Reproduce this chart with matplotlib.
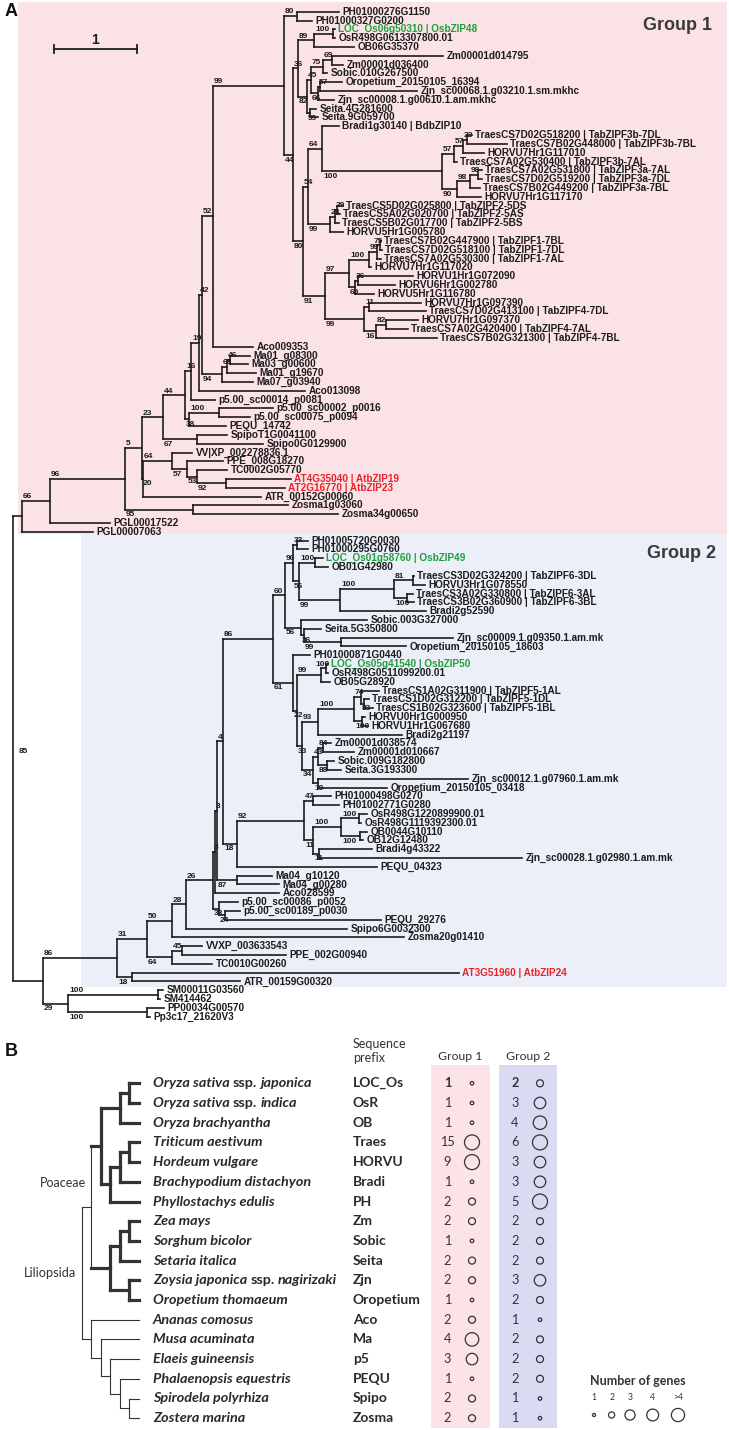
import matplotlib
matplotlib.use("Agg")
import matplotlib.pyplot as plt
from matplotlib.collections import LineCollection
from matplotlib.patches import Rectangle, Circle

# ---------------- panel A: bZIP tree ----------------
# Newick pieces; branch lengths in 1/83 of the scale-bar unit, support values as node names
G1_PH = "(PH01000276G1150:42,PH01000327G0200:15)80:13"
G1_ORYZA = "((LOC_Os06g50310 | OsbZIP48:2,OsR498G0613307800.01:2)100:19,OB06G35370:40)89:16"
G1_PANICOID = ("((((Zm00001d014795:111,Zm00001d036400:11)69:9,Sobic.010G267500:4)75:12,"
               "((Oropetium_20150105_16394:22,Zjn_sc00068.1.g03210.1.sm.mkhc:97)57:2,"
               "Zjn_sc00008.1.g00610.1.am.mkhc:16)66:7)45:4,"
               "(Seita.4G281600:6,Seita.9G059700:8)59:3)82:9")
G1_F3 = ("((((TraesCS7D02G518200 | TabZIPF3b-7DL:5,TraesCS7B02G448000 | TabZIPF3b-7BL:40)23:4,"
         "HORVU7Hr1G117010:21)57:9,TraesCS7A02G530400 | TabZIPF3b-7AL:3)57:12,"
         "(((TraesCS7A02G531800 | TabZIPF3a-7AL:4,TraesCS7D02G519200 | TabZIPF3a-7DL:4)98:8,"
         "TraesCS7B02G449200 | TabZIPF3a-7BL:10)98:13,HORVU7Hr1G117170:24)90:15)100:120")
G1_F2 = ("(((TraesCS5D02G025800 | TabZIPF2-5DS:6,TraesCS5A02G020700 | TabZIPF2-5AS:3)29:2,"
         "TraesCS5B02G017700 | TabZIPF2-5BS:4)23:5,HORVU5Hr1G005780:13)99:22")
G1_F1F4 = ("(((((TraesCS7B02G447900 | TabZIPF1-7BL:1,TraesCS7D02G518100 | TabZIPF1-7DL:2)75:3,"
           "TraesCS7A02G530300 | TabZIPF1-7AL:4)99:8,HORVU7Hr1G117020:2)100:20,"
           "((HORVU1Hr1G072090:55,HORVU6Hr1G002780:37)36:3,HORVU5Hr1G116780:19)69:6)97:24,"
           "((HORVU7Hr1G097390:52,TraesCS7D02G413100 | TabZIPF4-7DL:57)11:5,"
           "((HORVU7Hr1G097370:32,TraesCS7A02G420400 | TabZIPF4-7AL:22)82:10,"
           "TraesCS7B02G321300 | TabZIPF4-7BL:61)16:12)99:39)91:22")
G1_BACKBONE = [  # (sister clade, support of the joined node, stem length)
    ("Aco009353:40", "52", 11),
    ("(((Ma01_g08300:20,Ma03_g00600:18)46:3,Ma01_g19670:29)68:5,Ma07_g03940:31)94:20", "42", 3),
    ("Aco013098:106", "19", 8),
    ("p5.00_sc00014_p0081:24", "16", 6),
    ("((p5.00_sc00002_p0016:54,p5.00_sc00075_p0094:31)100:30,PEQU_14742:37)38:4", "44", 22),
    ("(SpipoT1G0041100:30,Spipo0G0129900:66)67:34", "23", 21),
    ("((VV|XP_002278836.1:20,(PPE_008G18270:36,(TC0002G05770:30,"
     "(AT4G35040 | AtbZIP19:65,AT2G16770 | AtbZIP23:59)92:29)53:10)57:15)64:29,"
     "ATR_00152G00060:118)20:1", "5", 17),
    ("(Zosma1g03060:95,Zosma34g00650:145)95:68", "96", 75),
    ("PGL00017522:60", "66", 28),
    ("PGL00007063:71", "", 9),
]

G2_PH = "(PH01005720G0030:11,PH01000295G0760:11)33:4"
G2_F6 = ("((LOC_Os01g58760 | OsbZIP49:8,OB01G42980:13)100:16,"
         "(((TraesCS3D02G324200 | TabZIPF6-3DL:1,HORVU3Hr1G078550:12)81:19,"
         "(TraesCS3A02G330800 | TabZIPF6-3AL:6,TraesCS3B02G360900 | TabZIPF6-3BL:7)100:13)100:54,"
         "Bradi2g52590:86)99:41)56:6")
G2_PAN_A = ("(Sobic.003G327000:66,(Seita.5G350800:17,(Zjn_sc00009.1.g09350.1.am.mk:112,"
            "Oropetium_20150105_18603:65)99:37)36:3)56:16")
G2_ORYZA = "((LOC_Os05g41540 | OsbZIP50:2,OsR498G0511099200.01:2)100:5,OB05G28920:9)99:24"
G2_F5 = ("(((TraesCS1A02G311900 | TabZIPF5-1AL:18,(TraesCS1D02G312200 | TabZIPF5-1DL:5,"
         "TraesCS1B02G323600 | TabZIPF5-1BL:9)83:3)74:7,(HORVU0Hr1G000950:3,HORVU1Hr1G067680:6)100:8)100:36,"
         "Bradi2g21197:84)93:16")
G2_PAN_B = ("(((Zm00001d038574:8,Zm00001d010667:31)84:5,(Sobic.009G182800:7,Seita.3G193300:14)88:9)43:5,"
            "(Zjn_sc00012.1.g07960.1.am.mk:150,Oropetium_20150105_03418:69)19:5)34:11")
G2_GRASS_C = ("((PH01000498G0270:18,PH01002771G0280:26)47:9,"
              "(((OsR498G1220899900.01:8,OsR498G1119392300.01:2)100:18,(OB0044G10110:7,OB12G12480:3)100:19)100:28,"
              "(Bradi4g43322:53,Zjn_sc00028.1.g02980.1.am.mk:203)11:6)11:9)92:67")
G2_BACKBONE = [
    ("(Ma04_g10120:35,Ma04_g00280:42)87:20", "3", 2),
    ("Aco028599:64", "3", 2),
    ("(p5.00_sc00086_p0052:19,(p5.00_sc00189_p0030:15,PEQU_29276:156)24:6)38:6", "26", 27),
    ("Spipo6G0032300:161", "28", 14),
    ("Zosma20g01410:232", "50", 25),
    ("((VVXP_003633543:20,PPE_002G00940:104)45:10,TC0010G00260:40)64:25", "31", 30),
    ("(AT3G51960 | AtbZIP24:327,ATR_00159G00320:108)18:15", "86", 74),
    ("((SM00011G03560:5,SM414462:2)100:90,(PP00034G00570:17,Pp3c17_21620V3:3)100:79)29:25", "", 30),
]
ROOT_SUPPORT = "85"
GREEN_LEAVES = ["LOC_Os06g50310 | OsbZIP48", "LOC_Os01g58760 | OsbZIP49", "LOC_Os05g41540 | OsbZIP50"]
RED_LEAVES = ["AT4G35040 | AtbZIP19", "AT2G16770 | AtbZIP23", "AT3G51960 | AtbZIP24"]

# ---------------- panel B: species table ----------------
SPECIES = ["Oryza sativa ssp. japonica", "Oryza sativa ssp. indica", "Oryza brachyantha",
           "Triticum aestivum", "Hordeum vulgare", "Brachypodium distachyon", "Phyllostachys edulis",
           "Zea mays", "Sorghum bicolor", "Setaria italica", "Zoysia japonica ssp. nagirizaki",
           "Oropetium thomaeum", "Ananas comosus", "Musa acuminata", "Elaeis guineensis",
           "Phalaenopsis equestris", "Spirodela polyrhiza", "Zostera marina"]
PREFIXES = ["LOC_Os", "OsR", "OB", "Traes", "HORVU", "Bradi", "PH", "Zm", "Sobic", "Seita", "Zjn",
            "Oropetium", "Aco", "Ma", "p5", "PEQU", "Spipo", "Zosma"]
GROUP1_N = [1, 1, 1, 15, 9, 1, 2, 2, 1, 2, 2, 1, 2, 4, 3, 1, 2, 2]
GROUP2_N = [2, 3, 4, 6, 3, 3, 5, 2, 2, 2, 3, 2, 1, 2, 2, 2, 1, 1]
POACEAE = "((((LOC_Os,OsR),OB),(((Traes,HORVU),Bradi),PH)),(((Zm,Sobic),Seita),(Zjn,Oropetium)))Poaceae"
SPECIES_TREE = f"({POACEAE},(Aco,(Ma,(p5,(PEQU,(Spipo,Zosma))))))Liliopsida"
LEGEND_CLASSES = ["1", "2", "3", "4", ">4"]


def parse(s):
    pos = 0

    def node():
        nonlocal pos
        kids = []
        if s[pos] == "(":
            pos += 1
            kids.append(node())
            while s[pos] == ",":
                pos += 1
                kids.append(node())
            pos += 1
        start = pos
        while pos < len(s) and s[pos] not in ":,()":
            pos += 1
        name = s[start:pos].strip()
        length = 0.0
        if pos < len(s) and s[pos] == ":":
            pos += 1
            start = pos
            while pos < len(s) and s[pos] not in ",()":
                pos += 1
            length = float(s[start:pos])
        return {"name": name, "len": length, "kids": kids}

    return node()


def build(core, backbone):
    clade = core
    for sister, sup, ln in backbone:
        clade = f"({clade},{sister}){sup}:{ln}"
    return clade


n298 = f"({G1_ORYZA},{G1_PANICOID})36:5"
n308 = f"((Bradi1g30140 | BdbZIP10:17,{G1_F3})64:14,{G1_F2})54:5"
n303 = f"({n308},{G1_F1F4})80:10"
core1 = f"({G1_PH},({n298},{n303})44:9)99:71"
group1 = build(core1, G1_BACKBONE)

n285 = f"(({G2_PH},{G2_F6})90:8,{G2_PAN_A})60:12"
n292 = f"(PH01000871G0440:17,({G2_ORYZA},({G2_F5},{G2_PAN_B})33:5)22:4)61:20"
core2 = f"(({n285},{n292})86:50,({G2_GRASS_C},PEQU_04323:140)18:14)4:6"
group2 = build(core2, G2_BACKBONE)
TREE = f"({group1},{group2}){ROOT_SUPPORT}"

# ---------------- figure ----------------
W, H = 729, 1430
fig = plt.figure(figsize=(W / 100, H / 100), dpi=100)
ax = fig.add_axes([0, 0, 1, 1])
ax.set_xlim(0, W)
ax.set_ylim(H, 0)
ax.axis("off")
R = fig.canvas.get_renderer()

LINE = "#1c1c1c"
TFONT = "Liberation Sans"
BFONT = ["Liberation Sans Narrow", "Lato"]
ROOT_X, LEAF_Y0, LEAF_DY = 13, 11.7, 8.816
BAR_PX, LEN_PER_UNIT = 83, 83


def width(s, **kw):
    t = ax.text(0, 0, s, **kw)
    w = t.get_window_extent(renderer=R).width
    t.remove()
    return w


ax.add_patch(Rectangle((18, 2), 709, 532, color="#fbe2e6", lw=0, zorder=0))
ax.add_patch(Rectangle((81, 534), 646, 453, color="#eceef8", lw=0, zorder=0))

root = parse(TREE)
leaves = []


def place(n, x0):
    n["x"] = x0 + n["len"] / LEN_PER_UNIT * BAR_PX
    if n["kids"]:
        for k in n["kids"]:
            place(k, n["x"])
        n["y"] = (n["kids"][0]["y"] + n["kids"][-1]["y"]) / 2
    else:
        n["y"] = LEAF_Y0 + len(leaves) * LEAF_DY
        leaves.append(n)


place(root, ROOT_X)
leaf_starts = [(lf["x"] + 3.5, lf["y"]) for lf in leaves]
segs = []
sup_kw = dict(fontsize=6.0, fontweight="bold", family=TFONT, color=LINE)


def support_label(x0, yc, above, text):
    w = width(text, **sup_kw)
    for lx, ly in leaf_starts:
        if abs(ly - yc) < 6 and x0 - 2 < lx < x0 + w + 1:
            x0 = min(x0, lx - w - 1.5)
    if above:
        ax.text(x0, yc + 4.2, text, ha="left", va="bottom", **sup_kw)
    else:
        ax.text(x0, yc - 4.4, text, ha="left", va="top", **sup_kw)


def walk(n):
    if not n["kids"]:
        return
    segs.append([(n["x"], n["kids"][0]["y"]), (n["x"], n["kids"][-1]["y"])])
    for i, k in enumerate(n["kids"]):
        segs.append([(n["x"], k["y"]), (k["x"], k["y"])])
        if k["kids"] and k["name"]:
            if i == 0:
                support_label(n["x"] + 1, k["y"] - 5.0, True, k["name"])
            else:
                support_label(n["x"] + 1, k["y"] + 6.0, False, k["name"])
        walk(k)


walk(root)
ax.add_collection(LineCollection(segs, colors=LINE, linewidths=1.2, capstyle="projecting"))
ax.text(root["x"] + 6, root["y"] + 3, root["name"], ha="left", va="center", **sup_kw)

for lf in leaves:
    col = LINE
    if lf["name"] in GREEN_LEAVES:
        col = "#1f9e3d"
    elif lf["name"] in RED_LEAVES:
        col = "#ea2228"
    ax.text(lf["x"] + 3.5, lf["y"], lf["name"], ha="left", va="center", fontsize=7.2,
            fontweight="bold", family=TFONT, color=col)

# scale bar and titles
ax.plot([54, 54 + BAR_PX], [49, 49], color=LINE, lw=1.3)
for xb in (54, 54 + BAR_PX):
    ax.plot([xb, xb], [45, 53], color=LINE, lw=1.3)
ax.text(54 + BAR_PX / 2, 40, "1", ha="center", va="center", fontsize=10, fontweight="bold", family=TFONT, color=LINE)
ax.text(5, 12, "A", ha="left", va="center", fontsize=13, fontweight="bold", family=TFONT, color="#111")
ax.text(712, 25, "Group 1", ha="right", va="center", fontsize=13, fontweight="bold", family=TFONT, color="#3a3a3a")
ax.text(716, 553, "Group 2", ha="right", va="center", fontsize=13, fontweight="bold", family=TFONT, color="#3a3a3a")

# ---------------- panel B ----------------
ax.text(5, 1052, "B", ha="left", va="center", fontsize=13, fontweight="bold", family=TFONT, color="#111")
ROW_Y0, ROW_DY = 1083.3, 19.7
SP_TIP_X, SP_STEP = 139, 9.5
X_NAME, X_PREFIX = 153, 353
X_N1, X_C1, X_N2, X_C2 = 447.5, 472, 515, 540
CIRCLE_D = {1: 3.5, 2: 7, 3: 11.5, 4: 13.5, 5: 15}
TXT = "#2a2a2a"

ax.add_patch(Rectangle((431, 1065), 59.5, 363, color="#fce3e6", lw=0, zorder=0))
ax.add_patch(Rectangle((499, 1065), 58, 363, color="#d9dbf2", lw=0, zorder=0))
ax.text(X_PREFIX, 1051, "Sequence\nprefix", ha="left", va="center", fontsize=9, family=BFONT,
        color="#333", linespacing=1.1)
ax.text(460.5, 1056, "Group 1", ha="center", va="center", fontsize=8.8, family=BFONT, color="#333")
ax.text(528, 1056, "Group 2", ha="center", va="center", fontsize=8.8, family=BFONT, color="#333")

sp_root = parse(SPECIES_TREE)
rows = []


def place_sp(n):
    if n["kids"]:
        for k in n["kids"]:
            place_sp(k)
        n["h"] = 1 + max(k["h"] for k in n["kids"])
        n["y"] = (n["kids"][0]["y"] + n["kids"][-1]["y"]) / 2
    else:
        n["h"] = 0
        n["y"] = ROW_Y0 + len(rows) * ROW_DY
        rows.append(n["name"])
    n["x"] = SP_TIP_X - n["h"] * SP_STEP


place_sp(sp_root)
THICK, THIN = 2.3, 0.8


def draw_sp(n, thick):
    if not n["kids"]:
        return
    inner = thick or n["name"] == "Poaceae"
    ax.plot([n["x"], n["x"]], [n["kids"][0]["y"], n["kids"][-1]["y"]], color="#333",
            lw=THICK if thick else THIN, solid_capstyle="projecting")
    for k in n["kids"]:
        ax.plot([n["x"], k["x"]], [k["y"], k["y"]], color="#333", lw=THICK if inner else THIN,
                solid_capstyle="projecting")
        draw_sp(k, inner)
    if n["name"] == "Poaceae":
        ax.text(n["x"] - 5, n["y"] - 1.2 * ROW_DY, n["name"], ha="right", va="center", fontsize=9,
                family=BFONT, color="#333")
    elif n["name"] == "Liliopsida":
        ax.text(n["x"] - 6, n["y"], n["name"], ha="right", va="center", fontsize=9.2,
                family=BFONT, color="#333")


draw_sp(sp_root, False)

sp_kw = dict(fontsize=10.4, fontweight="bold", family=BFONT, color=TXT, va="center", ha="left")
pre_kw = dict(sp_kw, fontsize=10)
space = width("a a", style="italic", **sp_kw) - width("aa", style="italic", **sp_kw)


def draw_species(x, y, name):
    parts = name.split(" ssp. ")
    if len(parts) == 1:
        ax.text(x, y, name, style="italic", **sp_kw)
        return
    t = ax.text(x, y, parts[0], style="italic", **sp_kw)
    x += t.get_window_extent(renderer=R).width + space
    t = ax.text(x, y, "ssp.", style="normal", **sp_kw)
    x += t.get_window_extent(renderer=R).width + space
    ax.text(x, y, parts[1], style="italic", **sp_kw)


def circle(x, y, n, scale=1.0):
    d = CIRCLE_D[min(n, 5)] * scale
    ax.add_patch(Circle((x, y), d / 2, fill=False, ec="#333", lw=0.9))


for i, (sp, pre, n1, n2) in enumerate(zip(SPECIES, PREFIXES, GROUP1_N, GROUP2_N)):
    y = ROW_Y0 + i * ROW_DY
    draw_species(X_NAME, y, sp)
    ax.text(X_PREFIX, y, pre, **pre_kw)
    wt = "bold" if i == 0 else "normal"
    ax.text(X_N1, y, str(n1), ha="center", va="center", fontsize=9.2, fontweight=wt, family=BFONT, color="#333")
    ax.text(X_N2, y, str(n2), ha="center", va="center", fontsize=9.2, fontweight=wt, family=BFONT, color="#333")
    circle(X_C1, y, n1)
    circle(X_C2, y, n2)

# legend
ax.text(638, 1381, "Number of genes", ha="center", va="center", fontsize=9, fontweight="bold",
        family=BFONT, color="#333")
for j, (lab, lx) in enumerate(zip(LEGEND_CLASSES, [594, 611.6, 630, 652.7, 678])):
    ax.text(lx, 1398, lab, ha="center", va="center", fontsize=6.2, family=BFONT, color="#333")
    circle(lx, 1415, j + 1, 0.88)

fig.savefig("out.png", dpi=100)
